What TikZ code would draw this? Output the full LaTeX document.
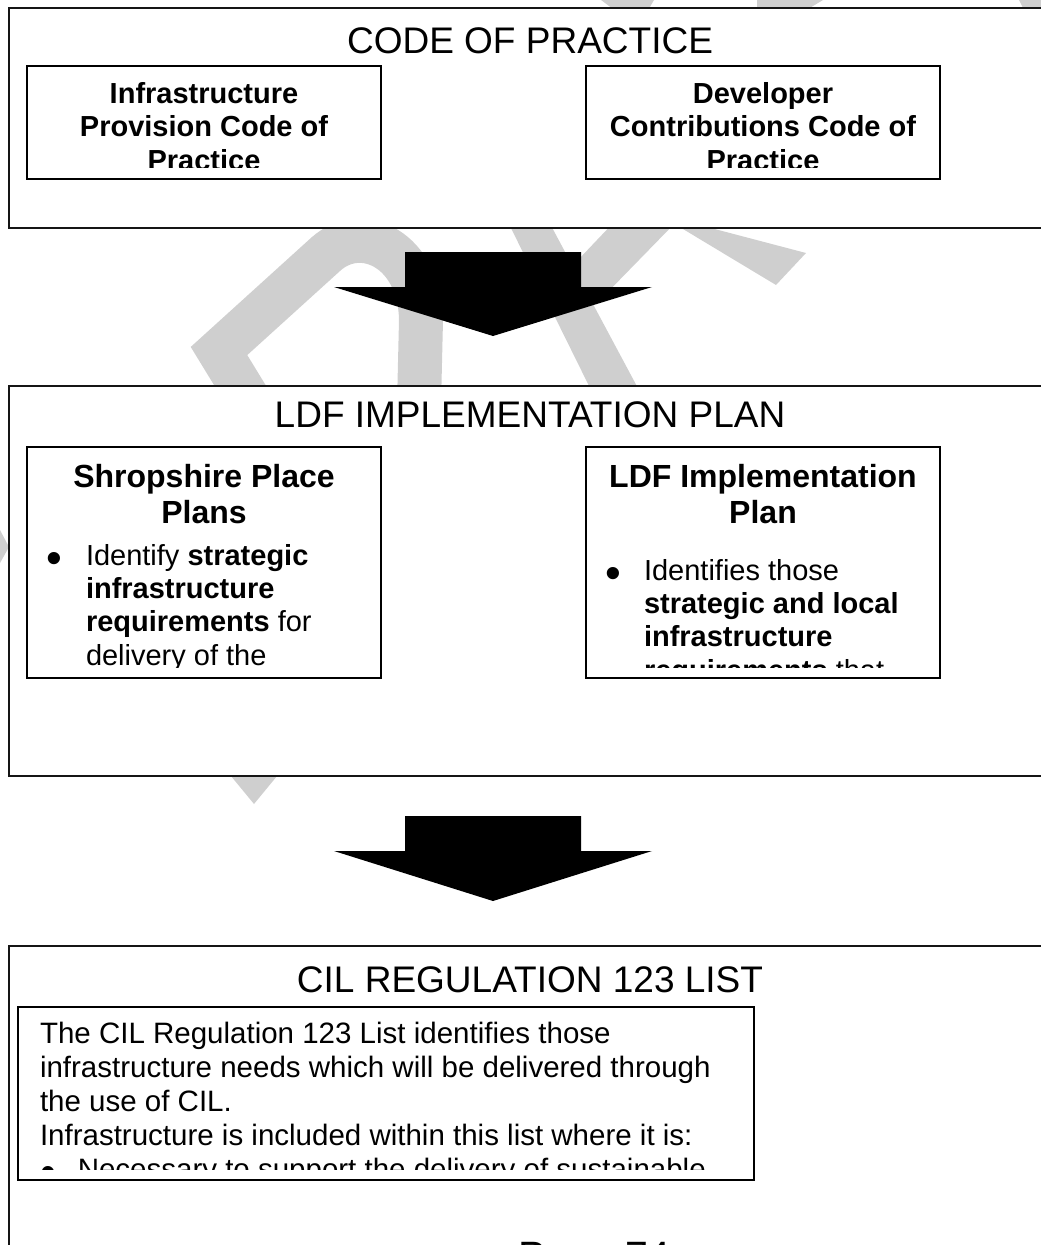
\documentclass[tikz,border=0pt]{standalone}
\usepackage{fontspec}
\setmainfont{Liberation Sans}
\usetikzlibrary{positioning}
\definecolor{panelLine}{HTML}{151515}
\definecolor{draftMark}{HTML}{CFCFCF}
\newcommand{\bigdot}{\raisebox{-8pt}{\fontsize{45pt}{0pt}\selectfont\textbullet}}

\begin{document}
\begin{tikzpicture}[
    x=1pt,y=-1pt,
    every node/.style={inner sep=0pt,outer sep=0pt},
    panel/.style={draw=panelLine,fill=white,line width=1.7pt,anchor=north west,minimum width=1040pt},
    inbox/.style={draw=black,fill=white,line width=1.5pt,anchor=north west,minimum width=354pt},
    heading/.style={font=\fontsize{37pt}{42pt}\selectfont,anchor=base},
    boxtitle/.style={font=\bfseries\fontsize{29pt}{33.5pt}\selectfont,align=center,anchor=north},
    subtitle/.style={font=\bfseries\fontsize{32pt}{36pt}\selectfont,align=center,anchor=north},
    bodytext/.style={font=\fontsize{29pt}{33.4pt}\selectfont,align=left,anchor=north west},
    blockarrow/.style={fill=black},
    draftband/.style={draw=draftMark,line width=44pt,line join=miter},
    draftbit/.style={fill=draftMark}
]
\useasboundingbox (0,0) rectangle (1041,1245);
\clip (0,0) rectangle (1041,1245);

% watermark pieces
\draw[draftband] (252,405) -- (219,351) -- (326,254) .. controls (362,222) and (420,250) .. (421,320) -- (419,405);
\fill[draftbit] (507,220) -- (548,220) -- (640,392) -- (592,392) -- cycle;
\fill[draftbit] (616,220) -- (678,220) -- (600,300) -- (540,300) -- cycle;
\fill[draftbit] (668,220) -- (688,222) -- (806,253) -- (776,285) -- cycle;
\fill[draftbit] (601,0) -- (654,0) -- (647,12) -- (617,12) -- cycle;
\fill[draftbit] (757,0) -- (823,0) -- (803,12) -- (757,12) -- cycle;
\fill[draftbit] (1019,0) -- (1041,0) -- (1041,12) -- (1025,12) -- cycle;
\fill[draftbit] (0,530) -- (9,547) -- (0,563) -- cycle;
\fill[draftbit] (226,770) -- (282,770) -- (254,804) -- cycle;

% code of practice
\node[panel,minimum height=220pt] (cop) at (9,8) {};
\node[heading] (copTitle) at (530,53) {CODE OF PRACTICE};
\node[inbox,minimum height=113pt] (ipcp) at (27,66) {};
\node[inbox,minimum height=113pt] (dccp) at (586,66) {};
\begin{scope}
\clip (ipcp.north west) rectangle ([yshift=12pt]dccp.south east);
\node[boxtitle] (ipcpText) at (204,82) {Infrastructure\\Provision Code of\\Practice};
\node[boxtitle] (dccpText) at (763,82) {Developer\\Contributions Code of\\Practice};
\end{scope}

\coordinate (arrowA) at (493,252);
\fill[blockarrow] (arrowA) ++(-88,0) -- ++(176,0) -- ++(0,35) -- ++(71,0) -- ++(-159,49) -- ++(-159,-49) -- ++(71,0) -- cycle;

% implementation plan
\node[panel,minimum height=390pt] (ldf) at (9,386) {};
\node[heading] (ldfTitle) at (530,427) {LDF IMPLEMENTATION PLAN};
\node[inbox,minimum height=231pt] (spp) at (27,447) {};
\node[inbox,minimum height=231pt] (ldfip) at (586,447) {};
\begin{scope}
\clip (spp.north west) rectangle ([yshift=11pt]ldfip.south east);
\node[subtitle] (sppTitle) at (204,464) {Shropshire Place\\Plans};
\node[subtitle] (ldfipTitle) at (763,464) {LDF Implementation\\Plan};
\node[bodytext] (sppText) at (86,544) {\llap{\bigdot\hspace{24pt}}Identify \textbf{strategic}\\\textbf{infrastructure}\\\textbf{requirements} for\\delivery of the};
\node[bodytext] (ldfipText) at (644,559) {\llap{\bigdot\hspace{23pt}}Identifies those\\\textbf{strategic and local}\\\textbf{infrastructure}\\\textbf{requirements} that};
\end{scope}

\coordinate (arrowB) at (493,816);
\fill[blockarrow] (arrowB) ++(-88,0) -- ++(176,0) -- ++(0,35) -- ++(71,0) -- ++(-159,50) -- ++(-159,-50) -- ++(71,0) -- cycle;

% regulation 123 list
\node[panel,minimum height=380pt] (cil) at (9,946) {};
\node[heading] (cilTitle) at (530,992) {CIL REGULATION 123 LIST};
\node[inbox,minimum width=736pt,minimum height=173pt] (cilList) at (18,1007) {};
\begin{scope}
\clip (cilList.north west) rectangle ([yshift=11pt]cilList.south east);
\node[bodytext,font=\fontsize{29.5pt}{34pt}\selectfont] (cilText) at (40,1022) {The CIL Regulation 123 List identifies those\\infrastructure needs which will be delivered through\\the use of CIL.\\Infrastructure is included within this list where it is:\\\bigdot\hspace{22pt}Necessary to support the delivery of sustainable};
\end{scope}

\node[font=\fontsize{41pt}{48pt}\selectfont,anchor=base west] (pageNo) at (518,1270) {Page 74};
\end{tikzpicture}
\end{document}
